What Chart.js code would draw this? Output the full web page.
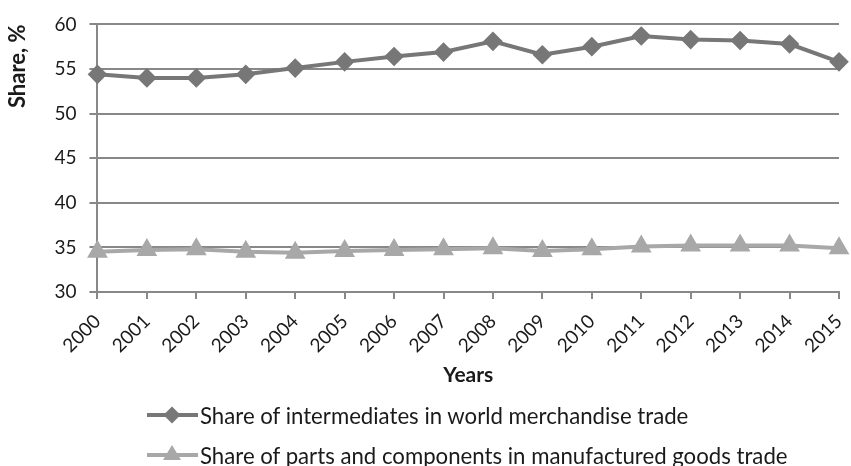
<!DOCTYPE html>
<html>
<head>
<meta charset="utf-8">
<script src="https://cdn.jsdelivr.net/npm/chart.js@4/dist/chart.umd.min.js"></script>
<style>
  html, body { margin: 0; padding: 0; background: #fff; }
  #wrap { position: relative; width: 851px; height: 466px; }
  #legend { position: absolute; left: 146px; top: 400px; font-family: Lato, "Liberation Sans", sans-serif; font-size: 22.2px; color: #1a1a1a; }
  .row { display: flex; align-items: center; height: 30px; margin-bottom: 10px; white-space: nowrap; }
</style>
</head>
<body>
<div id="wrap">
  <canvas id="c" width="851" height="466"></canvas>
  <div id="legend"></div>
</div>
<script>
const years = ["2000","2001","2002","2003","2004","2005","2006","2007","2008","2009","2010","2011","2012","2013","2014","2015"];
const intermediatesShare = [54.4, 54.0, 54.0, 54.4, 55.1, 55.8, 56.4, 56.9, 58.1, 56.6, 57.5, 58.7, 58.3, 58.2, 57.8, 55.8];
const partsShare = [34.5, 34.7, 34.8, 34.5, 34.4, 34.6, 34.7, 34.8, 34.9, 34.6, 34.8, 35.1, 35.2, 35.2, 35.2, 34.9];
const seriesNames = ["Share of intermediates in world merchandise trade", "Share of parts and components in manufactured goods trade"];
const yTicks = [30, 35, 40, 45, 50, 55, 60];

const darkGray = '#777777';
const lightGray = '#a8a8a8';
const fontFam = 'Lato, "Liberation Sans", sans-serif';
const PAD_BOTTOM = 78;

const chart = new Chart(document.getElementById('c'), {
  type: 'line',
  data: {
    labels: years,
    datasets: [
      { label: seriesNames[0], data: intermediatesShare, borderColor: darkGray, backgroundColor: darkGray,
        borderWidth: 4, pointStyle: 'rectRot', pointRadius: 7, pointHoverRadius: 7, tension: 0 },
      { label: seriesNames[1], data: partsShare, borderColor: lightGray, backgroundColor: lightGray,
        borderWidth: 4, pointStyle: 'triangle', pointRadius: 8, pointHoverRadius: 8, tension: 0 }
    ]
  },
  options: {
    responsive: false,
    animation: false,
    layout: { padding: { top: 13, right: 5, left: 0, bottom: PAD_BOTTOM } },
    plugins: { legend: { display: false }, tooltip: { enabled: false } },
    scales: {
      x: {
        offset: false,
        afterFit: (s) => { s.paddingLeft = 0; s.paddingRight = 0; s.height = 466 - PAD_BOTTOM - 292; },
        grid: { display: true, drawOnChartArea: false, drawTicks: true, tickLength: 7, color: '#888', lineWidth: 2 },
        border: { color: '#888', width: 2 },
        ticks: { maxRotation: 45, minRotation: 45, color: '#1a1a1a', font: { family: fontFam, size: 19 }, padding: 11 },
        title: { display: true, text: 'Years', color: '#1a1a1a', font: { family: fontFam, size: 21, weight: 'bold' }, padding: { top: 0, bottom: 0 } }
      },
      y: {
        min: 30, max: 60,
        afterBuildTicks: (s) => { s.ticks = yTicks.map(v => ({ value: v })); },
        grid: { color: '#888', lineWidth: 2, tickLength: 8 },
        border: { color: '#888', width: 2 },
        ticks: { color: '#1a1a1a', font: { family: fontFam, size: 19 }, padding: 13 },
        title: { display: true, text: 'Share, %', align: 'end', color: '#1a1a1a', font: { family: fontFam, size: 22, weight: 'bold' }, padding: { top: 5, bottom: 10 } }
      }
    }
  }
});

// HTML legend built from the datasets
const legend = document.getElementById('legend');
chart.data.datasets.forEach((ds, i) => {
  const row = document.createElement('div');
  row.className = 'row';
  const marker = i === 0
    ? '<polygon points="26,6.5 34.5,15 26,23.5 17.5,15" fill="' + ds.borderColor + '"/>'
    : '<polygon points="26,5 35,20 17,20" fill="' + ds.borderColor + '"/>';
  row.innerHTML = '<svg width="54" height="30"><line x1="1" y1="15" x2="52" y2="15" stroke="' + ds.borderColor + '" stroke-width="4"/>' + marker + '</svg><span>' + ds.label + '</span>';
  legend.appendChild(row);
});
</script>
</body>
</html>
